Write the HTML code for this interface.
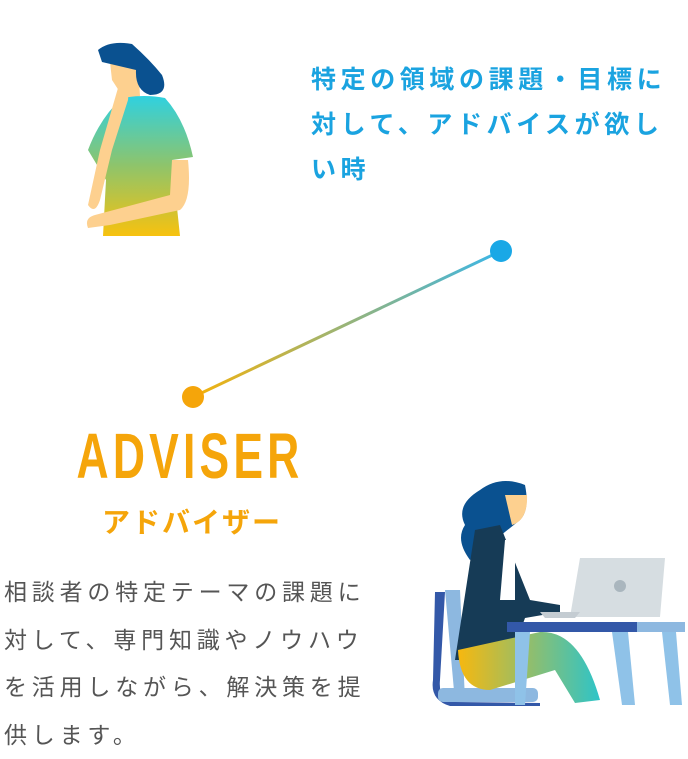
<!DOCTYPE html>
<html><head><meta charset="utf-8"><style>
body{margin:0;width:688px;height:744px;background:#fff;position:relative;overflow:hidden;font-family:"Liberation Sans","Noto Sans CJK JP",sans-serif}
.t{position:absolute;white-space:nowrap}
</style></head><body>
<svg width="688" height="744" style="position:absolute;left:0;top:0">
<defs>
<linearGradient id="ln" x1="193" y1="397" x2="501" y2="251" gradientUnits="userSpaceOnUse"><stop offset="0" stop-color="#f5b20a"/><stop offset="1" stop-color="#3ab6e8"/></linearGradient>
<linearGradient id="sh" x1="0" y1="0" x2="0" y2="1"><stop offset="0" stop-color="#2fd1e0"/><stop offset=".5" stop-color="#8fc46a"/><stop offset="1" stop-color="#f7c20f"/></linearGradient>
<linearGradient id="pt" x1="0" y1="0" x2="1" y2="0"><stop offset="0" stop-color="#f7b80f"/><stop offset="1" stop-color="#2ec4c8"/></linearGradient>
</defs>
<line x1="193" y1="397" x2="501" y2="251" stroke="url(#ln)" stroke-width="3"/>
<circle cx="193" cy="397" r="11" fill="#f5a50a"/>
<circle cx="501" cy="251" r="11" fill="#1aa8e6"/>
<path d="M110 62 L138 62 L140 96 L125 100 L112 80 Z" fill="#fdd08f"/>
<path d="M98 50 Q110 40 132 44 Q150 60 162 75 Q170 95 150 95 Q135 90 136 70 L102 62 Z" fill="#0a5190"/>
<path d="M122 98 Q145 94 165 98 Q185 120 193 157 L172 160 L180 236 L103 236 L106 180 L88 150 Q100 118 122 98 Z" fill="url(#sh)"/>
<path d="M118 88 Q130 80 128 100 L112 150 L100 200 Q95 215 88 205 L100 150 Z" fill="#fdd08f"/>
<path d="M172 160 L188 160 Q192 200 180 210 L110 225 L88 228 Q84 218 95 215 L170 195 Z" fill="#fdd08f"/>
<path d="M445 590 L460 590 L465 700 L455 702 Z" fill="#8db8e0"/>
<path d="M435 592 L445 592 L440 680 Q438 700 455 702 L540 703 L540 706 L450 706 Q430 700 433 680 Z" fill="#3358a8"/>
<rect x="438" y="688" width="100" height="14" rx="5" fill="#8db8e0"/>
<path d="M480 490 Q500 475 525 485 Q530 510 520 520 L495 540 L470 560 Q455 540 465 525 Q455 505 480 490 Z" fill="#0a5190"/>
<path d="M505 495 L527 495 Q528 520 512 525 Z" fill="#fdd08f"/>
<path d="M475 530 L500 525 L530 600 L560 605 L560 612 L525 618 L510 660 L455 660 Z" fill="#163b56"/>
<path d="M505 540 L515 540 L515 600 L500 600 Z" fill="#fff"/>
<path d="M458 650 L540 632 Q580 630 600 700 L575 703 L555 670 L490 690 Q460 690 458 650 Z" fill="url(#pt)"/>
<path d="M580 558 L665 558 L660 617 L570 617 Z" fill="#d6dde1"/>
<circle cx="620" cy="586" r="6" fill="#aab6be"/>
<path d="M540 612 L580 612 L575 618 L545 618 Z" fill="#c4ccd2"/>
<rect x="507" y="622" width="130" height="10" fill="#3358a8"/>
<rect x="637" y="622" width="48" height="10" fill="#8db8e0"/>
<path d="M515 632 L530 632 L525 705 L515 705 Z" fill="#8fc2e8"/>
<path d="M612 632 L628 632 L635 705 L622 705 Z" fill="#8fc2e8"/>
<path d="M662 632 L676 632 L682 705 L670 705 Z" fill="#8fc2e8"/>
</svg>
<div class="t" style="left:311px;top:58px;font-size:25px;font-weight:bold;color:#1aa3e0;line-height:45px;letter-spacing:4.6px">特定の領域の課題・目標に<br>対して、アドバイスが欲し<br>い時</div>
<div class="t" style="left:0;width:380px;text-align:center;top:420px;font-size:64px;font-weight:bold;color:#f5a50a;letter-spacing:6px;line-height:72px;transform:scaleX(0.695);transform-origin:190px 0">ADVISER</div>
<div class="t" style="left:2px;width:380px;text-align:center;top:501px;font-size:28px;font-weight:bold;color:#f5a50a;letter-spacing:2px">アドバイザー</div>
<div class="t" style="left:4px;top:569px;font-size:23px;color:#555;line-height:47.5px;letter-spacing:4.8px">相談者の特定テーマの課題に<br>対して、専門知識やノウハウ<br>を活用しながら、解決策を提<br>供します。</div>
</body></html>
